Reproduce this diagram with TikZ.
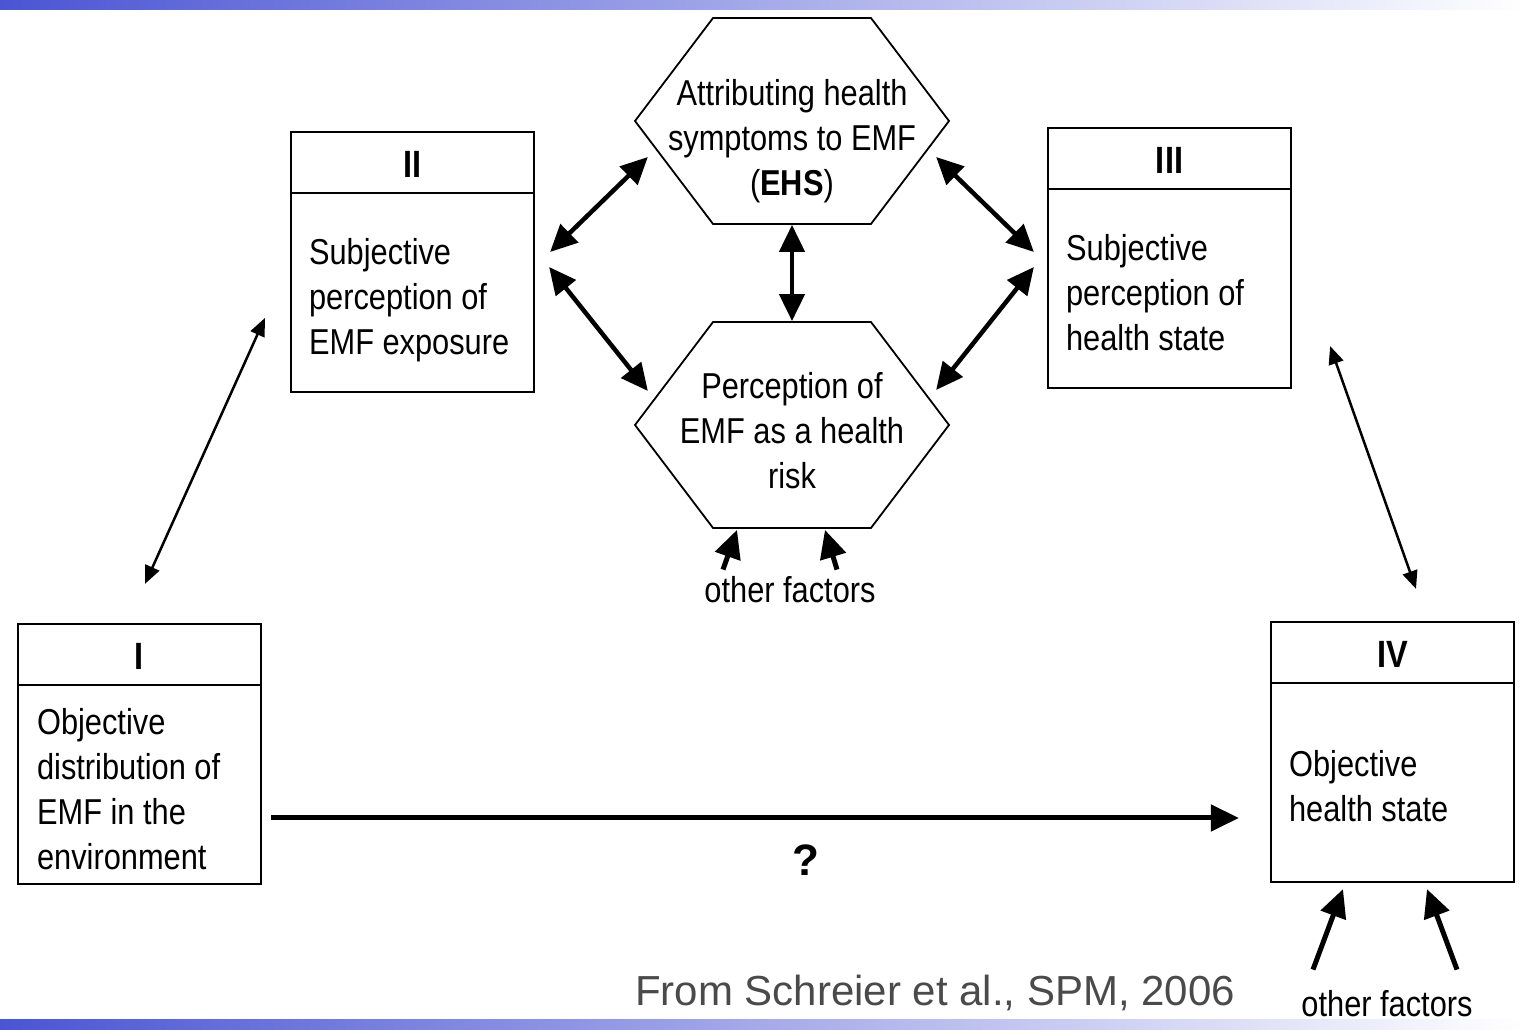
\documentclass[tikz,border=0pt]{standalone}
\usepackage{fontspec}
\setmainfont{Liberation Sans}
\newfontfamily\narrowfont{Liberation Sans}[FakeStretch=0.855]
\usepackage{tikz}
\usetikzlibrary{calc,arrows.meta,shapes.symbols}
\usepackage{xcolor}
\definecolor{bar_blue}{HTML}{4B55D3}
\definecolor{cite_gray}{HTML}{4A4A4A}

\begin{document}
\begin{tikzpicture}[x=1pt, y=1pt,
	stage/.style={draw, line width=2.2pt, minimum width=243pt, minimum height=260pt, inner sep=0pt},
	hexa/.style={draw, line width=1.8pt, shape=signal, signal to=west and east, signal pointer angle=105.7, minimum width=314pt, minimum height=206pt, inner sep=0pt},
	roman/.style={font=\narrowfont\bfseries\fontsize{38}{44}\selectfont, inner sep=0pt},
	body/.style={font=\narrowfont\fontsize{36}{45}\selectfont, align=left, anchor=north west, inner sep=0pt},
	hextext/.style={font=\narrowfont\fontsize{36}{45}\selectfont, align=center, anchor=north, inner sep=0pt},
	note/.style={font=\narrowfont\fontsize{36}{45}\selectfont, inner sep=0pt},
	duallink/.style={line width=4.5pt, {Triangle[length=27pt,width=25pt]}-{Triangle[length=27pt,width=25pt]}},
	slimlink/.style={line width=2.5pt, {Triangle[length=18pt,width=15pt]}-{Triangle[length=18pt,width=15pt]}},
	push/.style={line width=5pt, -{Triangle[length=28pt,width=26pt]}}]
	\useasboundingbox (0,0) rectangle (1524,1030);
	\fill[white] (0,0) rectangle (1524,1030);
	\shade[left color=bar_blue, right color=white] (0,1020) rectangle (1524,1030);
	\shade[left color=bar_blue, right color=white] (0,0) rectangle (1524,10);
	% the four stages
	\node[stage] (S1) at (139.5,276) {};
	\node[stage] (S2) at (412.5,768) {};
	\node[stage] (S3) at (1169.5,772) {};
	\node[stage] (S4) at (1392.5,278) {};
	\foreach \s/\r in {S1/I, S2/II, S3/III, S4/IV} {
		\draw[line width=2.2pt] ($(\s.north west)+(0,-62)$) -- ($(\s.north east)+(0,-62)$);
		\node[roman] (T\s) at ($(\s.north)+(0,-34)$) {\r};
	}
	\node[body] (B1) at ($(S1.north west)+(20,-85)$) {Objective\\distribution of\\EMF in the\\environment};
	\node[body] (B2) at ($(S2.north west)+(19,-107)$) {Subjective\\perception of\\EMF exposure};
	\node[body] (B3) at ($(S3.north west)+(19,-107)$) {Subjective\\perception of\\health state};
	\node[body] (B4) at ($(S4.north west)+(19,-129)$) {Objective\\health state};
	% hexagons
	\node[hexa] (H1) at (792,909) {};
	\node[hexa] (H2) at (792,605) {};
	\node[hextext] (HT1) at ($(H1.center)+(0,42)$) {Attributing health\\symptoms to EMF\\(\textbf{EHS})};
	\node[hextext] (HT2) at ($(H2.center)+(0,53)$) {Perception of\\EMF as a health\\risk};
	% links
	\draw[duallink] ([shift={(15,10)}]S2.east) -- ([shift={(14,-36)}]H1.west);
	\draw[duallink] ([shift={(14,-5)}]S2.east) -- ([shift={(14,34)}]H2.west);
	\draw[duallink] (H1.south) -- (H2.north);
	\draw[duallink] ([shift={(-14,-36)}]H1.east) -- ([shift={(-13,6)}]S3.west);
	\draw[duallink] ([shift={(-13,-9)}]S3.west) -- ([shift={(-14,35)}]H2.east);
	\draw[slimlink] ([shift={(5.5,39)}]S1.north) -- ([shift={(-25,-56)}]S2.west);
	\draw[slimlink] ([shift={(38,43)}]S3.south east) -- ([shift={(23.5,32)}]S4.north);
	\draw[push] ([shift={(9,-64)}]S1.east) -- ([shift={(-31,-66)}]S4.west);
	\node[font=\bfseries\fontsize{44}{50}\selectfont, inner sep=0pt] (Q) at (806,170) {?};
	% other factors
	\node[note] (F1) at (790,440) {other factors};
	\node[note] (F2) at (1387,26) {other factors};
	\draw[push] ([shift={(-67,7)}]F1.north) -- ([shift={(-55,-1)}]H2.south);
	\draw[push] ([shift={(47,7)}]F1.north) -- ([shift={(33,-1)}]H2.south);
	\draw[push] ([shift={(-74,21)}]F2.north) -- ([shift={(-49.5,-6)}]S4.south);
	\draw[push] ([shift={(70,21)}]F2.north) -- ([shift={(34.5,-6)}]S4.south);
	\node[font=\fontsize{42}{50}\selectfont, text=cite_gray, inner sep=0pt] (Cite) at (935,37) {From Schreier et al., SPM, 2006};
\end{tikzpicture}
\end{document}
